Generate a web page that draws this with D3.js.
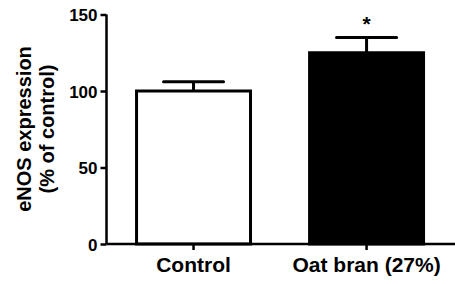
<!DOCTYPE html>
<html><head><meta charset="utf-8">
<script src="https://cdn.jsdelivr.net/npm/d3@7"></script>
<style>body{margin:0;background:#fff}svg{display:block}text{font-family:"Liberation Sans",Arial,sans-serif;font-weight:bold}</style>
</head><body><svg id="c" width="455" height="284"></svg>
<script>
const categories = ["Control", "Oat bran (27%)"];
const values = [100, 125];
const errors = [6, 10];
const fills = ["#fff", "#000"];
const yTicks = [0, 50, 100, 150];
const sigMarks = ["", "*"];

const svg = d3.select("#c");
const x = d3.scaleBand().domain(categories).range([106.5, 453.6]).paddingInner(0.324).paddingOuter(0.165);
const y = d3.scaleLinear().domain([0, 150]).range([244, 14.5]);

// bars
svg.selectAll("rect.bar").data(categories).enter().append("rect")
  .attr("x", d => x(d) + 1.5).attr("width", x.bandwidth() - 3)
  .attr("y", (d, i) => y(values[i])).attr("height", (d, i) => y(0) - y(values[i]))
  .attr("fill", (d, i) => fills[i]).attr("stroke", "#000").attr("stroke-width", 3);

// error bars
const capW = 60;
categories.forEach((d, i) => {
  const cx = x(d) + x.bandwidth() / 2;
  svg.append("line").attr("x1", cx).attr("x2", cx).attr("y1", y(values[i])).attr("y2", y(values[i] + errors[i]))
    .attr("stroke", "#000").attr("stroke-width", 3);
  svg.append("line").attr("x1", cx - capW / 2).attr("x2", cx + capW / 2).attr("y1", y(values[i] + errors[i])).attr("y2", y(values[i] + errors[i]))
    .attr("stroke", "#000").attr("stroke-width", 3).attr("stroke-linecap", "round");
  if (sigMarks[i]) svg.append("text").attr("x", cx).attr("y", y(values[i] + errors[i]) - 6)
    .attr("text-anchor", "middle").attr("font-size", 21).text(sigMarks[i]);
});

// y axis
const ya = svg.append("g").attr("transform", "translate(106.5,0)")
  .call(d3.axisLeft(y).tickValues(yTicks).tickSize(6).tickPadding(3));
ya.select(".domain").attr("stroke-width", 2.5).attr("d", `M0,${y(150)}V${y(0)}`);
ya.selectAll(".tick line").attr("stroke-width", 2.5);
ya.selectAll(".tick text").attr("font-size", 17).attr("fill", "#000").attr("dy", "0.36em");

// x axis
const xa = svg.append("g").attr("transform", `translate(0,${y(0)})`)
  .call(d3.axisBottom(x).tickSize(6));
xa.select(".domain").attr("stroke-width", 2.5).attr("d", "M106.5,0H455");
xa.selectAll(".tick line").attr("stroke-width", 2.5);
xa.selectAll(".tick text").attr("font-size", 21).attr("fill", "#000").attr("y", 28).attr("dy", 0);

// y label
const yl = svg.append("text").attr("transform", "translate(0,129) rotate(-90)").attr("text-anchor", "middle").attr("font-size", 20);
yl.append("tspan").attr("x", 0).attr("y", 31).text("eNOS expression");
yl.append("tspan").attr("x", 0).attr("y", 54).text("(% of control)");
</script></body></html>
